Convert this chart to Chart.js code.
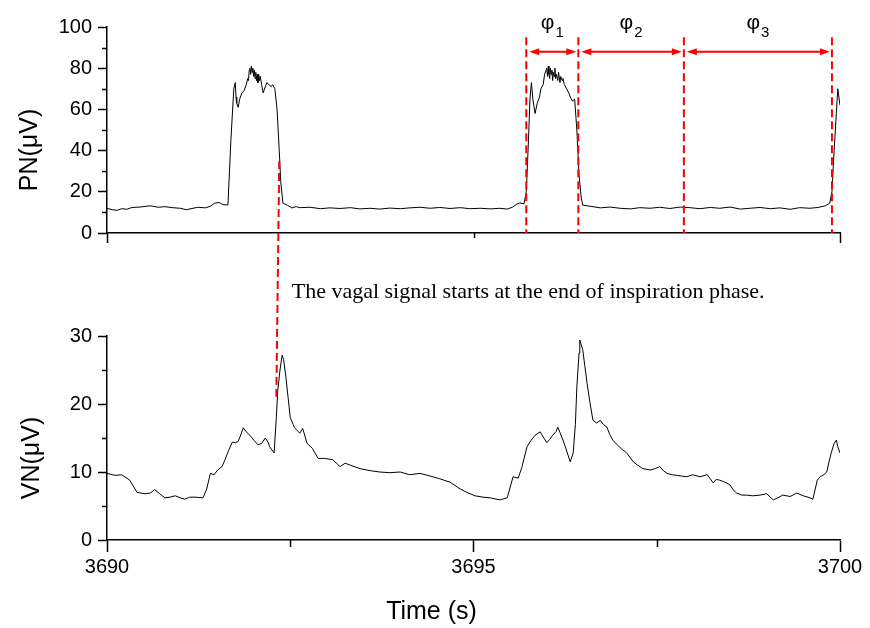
<!DOCTYPE html>
<html>
<head>
<meta charset="utf-8">
<script src="https://cdn.jsdelivr.net/npm/chart.js@4.4.1/dist/chart.umd.min.js"></script>
<style>
    body { margin: 0; background: #fff; width: 870px; height: 628px; position: relative; overflow: hidden; }
    #topWrap { position: absolute; left: 0; top: 0; width: 870px; height: 300px; }
    #botWrap { position: absolute; left: 0; top: 300px; width: 870px; height: 328px; }
    #overlay { position: absolute; left: 0; top: 0; pointer-events: none; }
</style>
</head>
<body>
<div id="topWrap"><canvas id="pnChart" width="870" height="300"></canvas></div>
<div id="botWrap"><canvas id="vnChart" width="870" height="328"></canvas></div>
<canvas id="overlay" width="870" height="628"></canvas>
<script>
// Sinal PN (nervo frênico)
const pnTime = [
    3690.00, 3690.07, 3690.14, 3690.20, 3690.27, 3690.34, 3690.45, 3690.59, 3690.70, 3690.79,
    3690.89, 3691.00, 3691.08, 3691.16, 3691.24, 3691.34, 3691.41, 3691.47, 3691.53, 3691.58,
    3691.65, 3691.69, 3691.73, 3691.75, 3691.76, 3691.77, 3691.79, 3691.81, 3691.84, 3691.87,
    3691.90, 3691.92, 3691.93, 3691.94, 3691.95, 3691.96, 3691.97, 3691.98, 3691.99, 3692.00,
    3692.01, 3692.02, 3692.03, 3692.04, 3692.05, 3692.06, 3692.07, 3692.08, 3692.09, 3692.11, 3692.13,
    3692.16, 3692.18, 3692.21, 3692.24, 3692.26, 3692.29, 3692.32, 3692.35, 3692.37, 3692.40,
    3692.46, 3692.52, 3692.58, 3692.63, 3692.77, 3692.91, 3693.04, 3693.18, 3693.32, 3693.45,
    3693.59, 3693.72, 3693.86, 3694.00, 3694.13, 3694.27, 3694.41, 3694.54, 3694.68, 3694.82,
    3694.95, 3695.09, 3695.23, 3695.36, 3695.46, 3695.53, 3695.59, 3695.63, 3695.69, 3695.72,
    3695.75, 3695.77, 3695.79, 3695.81, 3695.84, 3695.87, 3695.90, 3695.92, 3695.95, 3695.97,
    3696.00, 3696.01, 3696.02, 3696.03, 3696.04, 3696.05, 3696.06, 3696.07, 3696.08, 3696.09,
    3696.10, 3696.11, 3696.12, 3696.13, 3696.15, 3696.16, 3696.18, 3696.19, 3696.21, 3696.22, 3696.24,
    3696.27, 3696.30, 3696.32, 3696.35, 3696.38, 3696.41, 3696.44, 3696.47, 3696.49, 3696.59,
    3696.73, 3696.86, 3697.00, 3697.14, 3697.27, 3697.41, 3697.54, 3697.68, 3697.82, 3697.95,
    3698.09, 3698.23, 3698.36, 3698.50, 3698.64, 3698.77, 3698.91, 3699.05, 3699.18, 3699.32,
    3699.45, 3699.59, 3699.70, 3699.80, 3699.86, 3699.89, 3699.92, 3699.95, 3699.97, 3700.00
];
const pnValue = [
    12.0, 11.3, 11.0, 11.8, 11.5, 12.4, 12.6, 13.2, 12.5, 12.8,
    12.3, 12.0, 11.3, 11.9, 12.5, 12.2, 13.0, 14.5, 14.8, 13.8,
    13.6, 45, 70, 73, 66, 63, 61, 65, 68, 69,
    72, 75, 74, 79, 80, 77, 81, 78, 80, 76,
    79, 75, 78, 74, 77, 73, 77, 74, 76, 72, 68,
    71, 73, 72, 71, 72, 70, 60, 40, 25, 14.5,
    13.5, 12.2, 12.8, 12.3, 12.5, 11.8, 12.2, 11.9, 12.3, 11.7,
    12.0, 11.6, 12.1, 11.8, 12.2, 12.5, 12.0, 12.4, 11.9, 12.3,
    11.8, 12.0, 11.7, 12.0, 11.6, 12.5, 14.0, 14.6, 14.2, 20,
    45, 65, 73, 65, 58, 63, 66, 70, 72, 77,
    80, 76, 81, 77, 75, 80, 77, 79, 74, 78,
    76, 80, 75, 77, 74, 78, 73, 76, 74, 75, 72,
    70, 68, 66, 64, 65, 50, 28, 17, 13.5, 13.0,
    12.2, 12.6, 12.0, 11.7, 12.3, 12.0, 12.5, 11.9, 12.6, 12.3,
    11.8, 12.4, 12.0, 12.6, 11.6, 12.0, 12.4, 11.8, 12.2, 11.5,
    12.3, 12.0, 12.4, 13.2, 14.5, 20, 40, 58, 70, 62
];

// Sinal VN (nervo vago)
const vnTime = [
    3690.00, 3690.11, 3690.20, 3690.31, 3690.41, 3690.52, 3690.59, 3690.65, 3690.72, 3690.79,
    3690.86, 3690.93, 3691.00, 3691.06, 3691.13, 3691.20, 3691.31, 3691.36, 3691.41, 3691.46,
    3691.51, 3691.57, 3691.61, 3691.66, 3691.71, 3691.75, 3691.79, 3691.83, 3691.86, 3691.90,
    3691.95, 3692.01, 3692.06, 3692.11, 3692.16, 3692.20, 3692.22, 3692.28, 3692.31, 3692.33,
    3692.36, 3692.39, 3692.41, 3692.44, 3692.47, 3692.50, 3692.54, 3692.56, 3692.63, 3692.67,
    3692.73, 3692.80, 3692.88, 3692.97, 3693.08, 3693.18, 3693.25, 3693.32, 3693.45, 3693.59,
    3693.72, 3693.86, 3694.00, 3694.13, 3694.27, 3694.41, 3694.54, 3694.68, 3694.82, 3694.91,
    3695.02, 3695.13, 3695.23, 3695.36, 3695.46, 3695.54, 3695.61, 3695.66, 3695.73, 3695.78,
    3695.84, 3695.91, 3695.96, 3696.00, 3696.04, 3696.08, 3696.13, 3696.15, 3696.18, 3696.22,
    3696.25, 3696.28, 3696.32, 3696.36, 3696.39, 3696.41, 3696.44, 3696.45, 3696.49, 3696.52,
    3696.55, 3696.59, 3696.63, 3696.68, 3696.73, 3696.77, 3696.82, 3696.86, 3696.90, 3696.96,
    3697.03, 3697.09, 3697.18, 3697.24, 3697.31, 3697.41, 3697.48, 3697.54, 3697.59, 3697.64,
    3697.71, 3697.78, 3697.84, 3697.91, 3697.99, 3698.09, 3698.19, 3698.23, 3698.27, 3698.31,
    3698.36, 3698.43, 3698.50, 3698.54, 3698.59, 3698.66, 3698.73, 3698.81, 3698.91, 3699.00,
    3699.09, 3699.15, 3699.22, 3699.32, 3699.41, 3699.50, 3699.59, 3699.63, 3699.69, 3699.73,
    3699.78, 3699.82, 3699.85, 3699.88, 3699.92, 3699.95, 3699.97, 3700.00
];
const vnValue = [
    9.8, 9.5, 9.6, 8.8, 7.0, 6.8, 6.9, 7.4, 6.8, 6.2,
    6.3, 6.5, 6.2, 6.0, 6.3, 6.3, 6.2, 7.5, 9.8, 9.6,
    10.3, 10.8, 11.8, 13.2, 14.4, 14.3, 14.5, 15.6, 16.5, 15.9,
    15.4, 14.6, 14.0, 14.2, 15.0, 14.3, 13.7, 12.8, 18.0, 22.0,
    25.0, 27.2, 26.5, 24.0, 21.0, 18.0, 17.0, 16.5, 15.7, 16.4,
    14.2, 13.5, 12.0, 12.0, 11.8, 10.8, 11.3, 11.0, 10.5, 10.2,
    10.0, 9.9, 10.0, 9.6, 9.8, 9.4, 9.0, 8.5, 7.5, 7.0,
    6.5, 6.3, 6.2, 5.9, 6.2, 9.3, 9.1, 10.7, 13.7, 14.6,
    15.4, 15.9, 15.0, 14.3, 14.8, 15.4, 16.0, 16.6, 15.8, 14.7,
    13.8, 12.8, 11.5, 12.8, 17.0, 22.5, 27.5, 29.4, 28.0, 25.5,
    23.0, 20.1, 17.6, 17.2, 17.6, 17.0, 16.6, 15.5, 14.7, 14.0,
    13.3, 12.8, 11.5, 11.0, 10.5, 10.3, 10.5, 10.8, 10.2, 9.8,
    9.6, 9.5, 9.4, 9.3, 9.6, 9.3, 9.6, 9.0, 8.4, 8.9,
    8.8, 8.5, 8.1, 7.4, 6.9, 6.6, 6.6, 6.5, 6.6, 6.8,
    5.9, 6.2, 6.6, 6.4, 6.9, 6.5, 6.2, 6.0, 8.8, 9.3,
    9.6, 10.0, 11.5, 12.8, 14.2, 14.7, 13.7, 12.8
];

// Limites das fases e marcações
const phaseBounds = [3695.72, 3696.43, 3697.87, 3699.89];
const phaseNames = ['1', '2', '3'];
const phaseLineTop = 95;     // PN
const phaseArrowLevel = 88;  // PN
const phaseLabelLevel = 99;  // PN
const vagalLineStart = { t: 3692.35, pn: 35 };
const vagalLineEnd = { t: 3692.31, vn: 21 };
const noteText = 'The vagal signal starts at the end of inspiration phase.';
const noteAt = { t: 3692.52, vn: 36.5 };

const RED = '#ff0000';
const SANS = '"Liberation Sans", Arial, sans-serif';

// Plugin para ticks menores (comprimentos diferentes)
const extraTicks = {
    id: 'extraTicks',
    afterDraw(chart, args, opts) {
        const ctx = chart.ctx;
        const { x, y } = chart.scales;
        ctx.save();
        ctx.strokeStyle = '#000';
        ctx.lineWidth = 1.5;
        (opts.y || []).forEach(v => {
            const py = Math.round(y.getPixelForValue(v)) + 0.5;
            ctx.beginPath();
            ctx.moveTo(chart.chartArea.left, py);
            ctx.lineTo(chart.chartArea.left - opts.yLen, py);
            ctx.stroke();
        });
        (opts.x || []).forEach(tk => {
            const px = Math.round(x.getPixelForValue(tk.v)) + 0.5;
            ctx.beginPath();
            ctx.moveTo(px, chart.chartArea.bottom);
            ctx.lineTo(px, chart.chartArea.bottom + tk.len);
            ctx.stroke();
        });
        ctx.restore();
    }
};

function makeChart(id, times, values, yMax, yStep, padTop, xHeight, showX, extra) {
    const ctx = document.getElementById(id).getContext('2d');
    return new Chart(ctx, {
        type: 'line',
        data: {
            datasets: [{
                data: times.map((t, i) => ({ x: t, y: values[i] })),
                borderColor: '#000',
                borderWidth: 1,
                pointRadius: 0,
                tension: 0,
                fill: false
            }]
        },
        options: {
            responsive: false,
            animation: false,
            events: [],
            layout: { padding: { top: padTop, right: 30, left: 0, bottom: 0 } },
            plugins: { legend: { display: false }, tooltip: { enabled: false }, extraTicks: extra },
            scales: {
                x: {
                    type: 'linear',
                    min: 3690,
                    max: 3700,
                    afterFit: s => { s.height = xHeight; },
                    border: { display: true, color: '#000', width: 1.5 },
                    grid: { display: showX, drawOnChartArea: false, tickLength: 12, tickWidth: 1.5, tickColor: '#000' },
                    ticks: {
                        display: showX,
                        stepSize: 5,
                        padding: 3,
                        color: '#000',
                        maxRotation: 0,
                        font: { family: SANS, size: 20 },
                        callback: v => String(v)
                    }
                },
                y: {
                    min: 0,
                    max: yMax,
                    afterFit: s => { s.width = 107; },
                    border: { display: true, color: '#000', width: 1.5 },
                    grid: { drawOnChartArea: false, tickLength: 9, tickWidth: 1.5, tickColor: '#000' },
                    ticks: {
                        stepSize: yStep,
                        padding: 6,
                        color: '#000',
                        font: { family: SANS, size: 20 }
                    }
                }
            }
        },
        plugins: [extraTicks]
    });
}

const pnChart = makeChart('pnChart', pnTime, pnValue, 100, 20, 27, 67, false, {
    y: [10, 30, 50, 70, 90], yLen: 5,
    x: [{ v: 3690, len: 10 }, { v: 3695, len: 5 }, { v: 3700, len: 10 }]
});
const vnChart = makeChart('vnChart', vnTime, vnValue, 30, 10, 36, 88, true, {
    y: [5, 15, 25], yLen: 5,
    x: [{ v: 3692.5, len: 7 }, { v: 3697.5, len: 7 }]
});

// Desenha anotações que cruzam os dois gráficos
function drawOverlay() {
    const ctx = document.getElementById('overlay').getContext('2d');
    const botTop = document.getElementById('botWrap').offsetTop;
    const tx = pnChart.scales.x, ty = pnChart.scales.y;
    const bx = vnChart.scales.x, by = vnChart.scales.y;

    ctx.save();
    ctx.strokeStyle = RED;
    ctx.fillStyle = RED;
    ctx.lineWidth = 2;
    ctx.setLineDash([8, 4]);

    // Linhas verticais das fases
    phaseBounds.forEach(t => {
        const px = tx.getPixelForValue(t);
        ctx.beginPath();
        ctx.moveTo(px, ty.getPixelForValue(phaseLineTop));
        ctx.lineTo(px, ty.getPixelForValue(0));
        ctx.stroke();
    });

    // Linha inclinada PN -> VN
    ctx.beginPath();
    ctx.moveTo(tx.getPixelForValue(vagalLineStart.t), ty.getPixelForValue(vagalLineStart.pn));
    ctx.lineTo(bx.getPixelForValue(vagalLineEnd.t), botTop + by.getPixelForValue(vagalLineEnd.vn));
    ctx.stroke();

    // Setas duplas
    ctx.setLineDash([]);
    const ay = ty.getPixelForValue(phaseArrowLevel);
    for (let i = 0; i < phaseBounds.length - 1; i++) {
        const x1 = tx.getPixelForValue(phaseBounds[i]) + 3;
        const x2 = tx.getPixelForValue(phaseBounds[i + 1]) - 2;
        ctx.beginPath();
        ctx.moveTo(x1 + 4, ay);
        ctx.lineTo(x2 - 4, ay);
        ctx.stroke();
        [[x1, 1], [x2, -1]].forEach(([xx, d]) => {
            ctx.beginPath();
            ctx.moveTo(xx, ay);
            ctx.lineTo(xx + d * 10, ay - 3.5);
            ctx.lineTo(xx + d * 10, ay + 3.5);
            ctx.closePath();
            ctx.fill();
        });
    }

    // Rótulos φ
    ctx.fillStyle = '#000';
    ctx.textBaseline = 'alphabetic';
    const ly = ty.getPixelForValue(phaseLabelLevel);
    for (let i = 0; i < phaseNames.length; i++) {
        const mid = (tx.getPixelForValue(phaseBounds[i]) + tx.getPixelForValue(phaseBounds[i + 1])) / 2;
        ctx.font = '21px ' + SANS;
        const wPhi = ctx.measureText('φ').width;
        ctx.font = '15px ' + SANS;
        const wSub = ctx.measureText(phaseNames[i]).width;
        const left = mid - (wPhi + 1 + wSub) / 2;
        ctx.font = '21px ' + SANS;
        ctx.fillText('φ', left, ly);
        ctx.font = '15px ' + SANS;
        ctx.fillText(phaseNames[i], left + wPhi + 1, ly + 8);
    }

    // Nota
    ctx.font = '22px "Liberation Serif", "Times New Roman", serif';
    ctx.textBaseline = 'middle';
    ctx.fillText(noteText, bx.getPixelForValue(noteAt.t), botTop + by.getPixelForValue(noteAt.vn));

    // Títulos dos eixos
    ctx.font = '25px ' + SANS;
    ctx.textAlign = 'center';
    const titles = [
        { text: 'PN(μV)', x: 30, y: (pnChart.chartArea.top + pnChart.chartArea.bottom) / 2 + 20 },
        { text: 'VN(μV)', x: 32, y: botTop + (vnChart.chartArea.top + vnChart.chartArea.bottom) / 2 + 20 }
    ];
    titles.forEach(tt => {
        ctx.save();
        ctx.translate(tt.x, tt.y);
        ctx.rotate(-Math.PI / 2);
        ctx.fillText(tt.text, 0, 0);
        ctx.restore();
    });
    ctx.fillText('Time (s)', (vnChart.chartArea.left + vnChart.chartArea.right) / 2 - 42, botTop + vnChart.chartArea.bottom + 72);
    ctx.restore();
}

drawOverlay();
</script>
</body>
</html>
